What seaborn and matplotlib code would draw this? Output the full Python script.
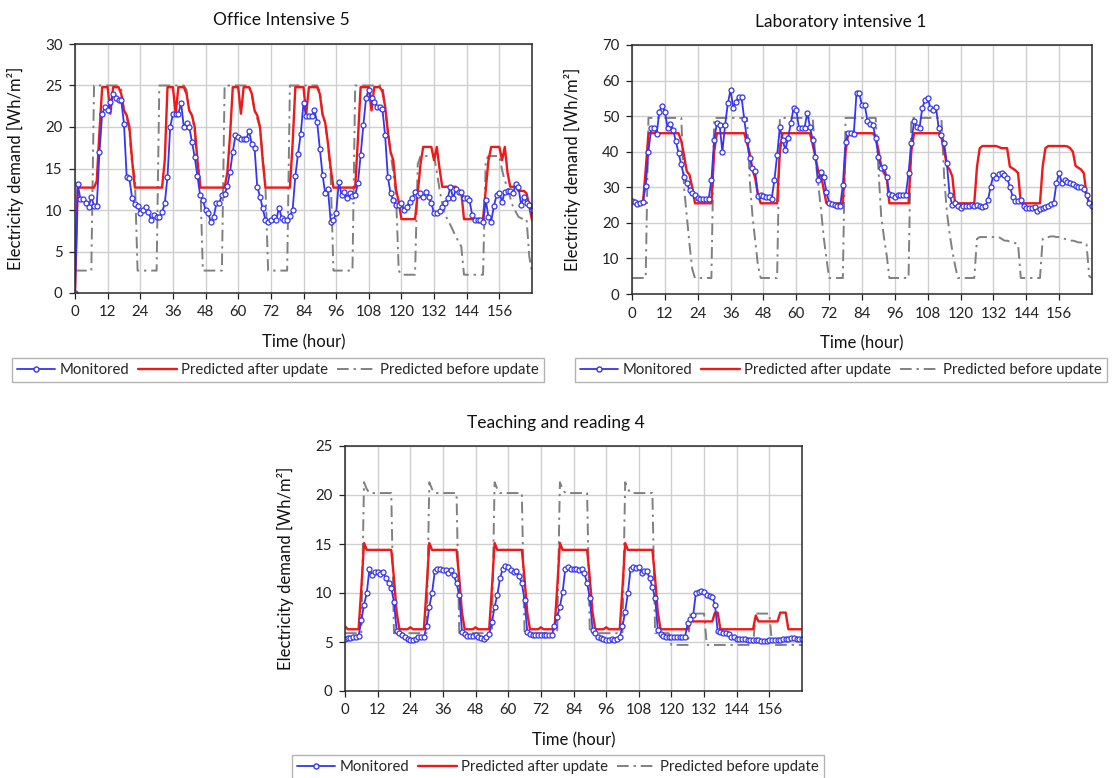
import numpy as np
import pandas as pd
import matplotlib
matplotlib.use("Agg")
import matplotlib.pyplot as plt
import seaborn as sns
from matplotlib.lines import Line2D

# ---------------- data (hourly, 0..168) ----------------
hours = list(range(169))

office_monitored = [
    0.0, 13.1, 11.3, 11.3, 10.8, 10.4, 11.6, 10.5, 10.5, 17.0, 21.6, 22.4, 22.0, 23.0, 24.0, 23.5, 23.2, 23.2, 20.4, 14.0, 13.8, 11.4, 10.7, 10.5,
    9.6, 10.0, 10.4, 9.8, 8.8, 9.4, 9.2, 9.2, 9.7, 10.8, 14.0, 20.0, 21.6, 21.6, 21.6, 22.9, 20.0, 20.5, 20.0, 18.2, 16.4, 14.1, 11.8, 11.2,
    10.0, 9.6, 8.5, 9.2, 10.8, 10.8, 11.8, 11.9, 12.9, 14.6, 17.0, 19.0, 18.8, 18.6, 18.5, 18.6, 19.5, 17.9, 17.5, 12.8, 11.6, 10.2, 8.8, 8.6,
    8.8, 9.2, 8.8, 10.3, 9.0, 8.8, 8.8, 9.3, 10.0, 14.1, 16.8, 19.2, 22.9, 21.3, 21.3, 21.3, 22.0, 20.6, 17.4, 14.2, 12.0, 12.5, 8.6, 8.8,
    9.6, 13.4, 11.8, 12.2, 11.4, 12.1, 11.7, 11.8, 13.2, 16.6, 20.2, 23.5, 24.5, 23.5, 23.0, 22.4, 22.4, 22.2, 19.0, 14.0, 12.0, 11.2, 10.6, 10.6,
    10.8, 10.0, 10.4, 11.0, 11.4, 12.2, 11.8, 12.0, 11.6, 12.2, 11.6, 10.8, 9.6, 9.6, 9.9, 10.4, 10.8, 11.4, 12.8, 11.4, 12.5, 12.2, 12.2, 11.4,
    11.4, 11.2, 9.4, 8.8, 8.8, 8.8, 8.5, 11.2, 9.2, 8.6, 10.5, 11.8, 12.1, 11.0, 12.2, 12.3, 12.3, 12.0, 13.1, 12.8, 10.6, 11.6, 10.8, 10.6, 10.0]
office_after = [
    0.0, 12.7, 12.7, 12.7, 12.7, 12.7, 12.7, 12.7, 13.5, 19.5, 24.8, 24.8, 24.8, 21.6, 24.8, 24.8, 24.8, 24.0, 22.0, 21.4, 20.0, 16.0, 12.7, 12.7,
    12.7, 12.7, 12.7, 12.7, 12.7, 12.7, 12.7, 12.7, 12.7, 16.0, 24.8, 24.8, 24.8, 21.6, 24.8, 24.8, 24.8, 24.0, 22.0, 21.4, 20.0, 16.0, 12.7, 12.7,
    12.7, 12.7, 12.7, 12.7, 12.7, 12.7, 12.7, 12.7, 14.5, 19.0, 24.8, 24.8, 24.8, 21.6, 24.8, 24.8, 24.8, 24.0, 22.0, 21.4, 20.0, 16.0, 12.7, 12.7,
    12.7, 12.7, 12.7, 12.7, 12.7, 12.7, 12.7, 12.7, 18.0, 24.8, 24.8, 24.8, 24.8, 21.6, 24.8, 24.8, 24.8, 24.8, 24.0, 21.5, 20.5, 18.0, 15.0, 12.7,
    12.7, 12.7, 12.7, 12.7, 12.7, 12.7, 12.7, 12.7, 18.5, 24.8, 24.8, 24.8, 24.8, 22.0, 24.8, 24.8, 24.8, 24.3, 22.5, 19.5, 17.0, 16.0, 12.5, 11.0,
    8.9, 8.9, 8.9, 8.9, 8.9, 8.9, 12.0, 15.5, 17.6, 17.6, 17.6, 17.6, 16.0, 17.6, 15.0, 12.8, 12.8, 12.8, 12.8, 12.8, 12.8, 12.2, 12.2, 8.9,
    8.9, 8.9, 8.9, 8.9, 8.9, 8.9, 8.9, 12.5, 16.0, 17.6, 17.6, 17.6, 17.6, 16.0, 17.6, 14.5, 12.8, 12.8, 12.8, 12.3, 12.3, 12.3, 12.0, 10.5, 8.8]
office_before = [
    2.7, 2.7, 2.7, 2.7, 2.7, 2.7, 2.7, 25.0, 25.0, 25.0, 25.0, 25.0, 25.0, 25.0, 25.0, 25.0, 25.0, 24.5, 22.0, 21.4, 19.5, 15.5, 14.0, 2.7,
    2.7, 2.7, 2.7, 2.7, 2.7, 2.7, 2.7, 25.0, 25.0, 25.0, 25.0, 25.0, 25.0, 25.0, 25.0, 25.0, 25.0, 24.5, 22.0, 21.4, 19.5, 15.5, 14.0, 2.7,
    2.7, 2.7, 2.7, 2.7, 2.7, 2.7, 2.7, 25.0, 25.0, 25.0, 25.0, 25.0, 25.0, 25.0, 25.0, 25.0, 25.0, 24.0, 22.0, 21.0, 20.0, 16.5, 13.0, 2.7,
    2.7, 2.7, 2.7, 2.7, 2.7, 2.7, 2.7, 25.0, 25.0, 25.0, 25.0, 25.0, 25.0, 25.0, 25.0, 25.0, 25.0, 25.0, 24.3, 21.5, 20.5, 18.0, 14.0, 2.7,
    2.7, 2.7, 2.7, 2.7, 2.7, 2.7, 2.7, 25.0, 25.0, 25.0, 25.0, 25.0, 25.0, 25.0, 25.0, 25.0, 25.0, 25.0, 22.5, 19.5, 17.0, 14.5, 12.0, 2.7,
    2.2, 2.2, 2.2, 2.2, 2.2, 2.2, 15.5, 16.5, 16.5, 16.5, 16.5, 16.5, 16.5, 14.6, 12.5, 10.8, 9.5, 8.8, 8.2, 7.5, 6.8, 6.2, 5.6, 2.2,
    2.2, 2.2, 2.2, 2.2, 2.2, 2.2, 2.2, 16.0, 16.5, 16.5, 16.5, 16.5, 16.5, 14.8, 13.5, 12.8, 11.5, 10.4, 9.8, 9.2, 9.0, 8.9, 8.9, 4.4, 2.5]

lab_monitored = [
    26.2, 25.8, 25.3, 25.7, 25.9, 30.5, 40.0, 46.6, 46.8, 45.0, 51.3, 52.9, 51.3, 46.6, 47.8, 46.1, 43.0, 39.7, 36.5, 33.0, 31.1, 29.2, 28.5, 27.8,
    27.0, 26.6, 26.6, 26.7, 26.7, 32.0, 43.3, 48.0, 47.5, 40.0, 47.5, 53.6, 57.4, 52.2, 54.1, 55.5, 55.3, 49.1, 43.3, 38.1, 35.3, 34.5, 27.6, 27.8,
    27.6, 27.4, 27.4, 26.7, 32.0, 39.0, 46.9, 43.3, 40.5, 43.8, 48.0, 52.2, 51.7, 46.6, 46.6, 46.6, 51.0, 47.0, 43.3, 38.6, 32.0, 34.4, 33.0, 28.8,
    25.7, 25.3, 25.0, 24.8, 24.6, 30.6, 42.8, 45.2, 45.2, 45.0, 56.6, 56.4, 53.0, 53.2, 48.5, 47.8, 47.5, 43.8, 38.6, 35.3, 35.8, 33.0, 28.0, 27.8,
    27.2, 27.8, 27.8, 27.8, 27.8, 34.0, 42.4, 48.5, 47.0, 46.6, 52.2, 54.5, 55.2, 52.2, 51.7, 52.7, 46.6, 44.7, 42.4, 36.7, 27.8, 25.0, 25.5, 24.7,
    24.1, 24.8, 24.7, 24.6, 24.9, 24.7, 24.9, 24.6, 24.4, 24.8, 26.4, 30.2, 33.5, 32.5, 33.7, 33.9, 33.5, 32.5, 30.2, 27.4, 26.1, 26.2, 26.4, 24.6,
    24.1, 24.3, 24.1, 24.4, 23.4, 23.8, 24.1, 24.4, 24.8, 25.3, 25.6, 31.1, 34.1, 31.1, 32.0, 31.5, 31.1, 30.8, 30.5, 30.2, 30.0, 29.4, 27.8, 25.5, 24.8]
lab_after = [
    25.7, 25.7, 25.7, 25.7, 25.7, 35.0, 45.2, 45.2, 45.2, 45.2, 45.2, 45.2, 45.2, 45.2, 45.2, 45.2, 45.2, 45.2, 43.0, 39.0, 34.5, 33.5, 30.0, 25.5,
    25.5, 25.5, 25.5, 25.5, 25.5, 25.5, 40.0, 45.2, 45.2, 45.2, 45.2, 45.2, 45.2, 45.2, 45.2, 45.2, 45.2, 45.2, 42.5, 39.5, 35.0, 32.5, 28.0, 25.5,
    25.5, 25.5, 25.5, 25.5, 25.5, 25.5, 40.0, 45.2, 45.2, 45.2, 45.2, 45.2, 45.2, 45.2, 45.2, 45.2, 45.2, 45.2, 42.0, 38.5, 34.5, 33.5, 29.5, 25.5,
    25.5, 25.5, 25.5, 25.5, 25.5, 25.5, 40.0, 45.2, 45.2, 45.2, 45.2, 45.2, 45.2, 45.2, 45.2, 45.2, 45.2, 44.0, 40.5, 36.0, 34.0, 33.0, 25.5, 25.5,
    25.5, 25.5, 25.5, 25.5, 25.5, 25.5, 40.0, 45.2, 45.2, 45.2, 45.2, 45.2, 45.2, 45.2, 45.2, 45.2, 45.2, 44.0, 40.5, 36.0, 35.0, 33.0, 25.5, 25.5,
    25.5, 25.5, 25.5, 25.5, 25.5, 25.5, 35.8, 41.0, 41.6, 41.6, 41.6, 41.6, 41.6, 41.6, 41.3, 41.0, 41.0, 41.0, 35.8, 35.3, 34.8, 34.0, 25.5, 25.5,
    25.5, 25.5, 25.5, 25.5, 25.5, 25.5, 36.0, 41.0, 41.6, 41.6, 41.6, 41.6, 41.6, 41.6, 41.6, 41.5, 41.0, 40.0, 36.0, 35.5, 35.0, 34.0, 28.0, 25.5, 25.5]
lab_before = [
    4.5, 4.5, 4.5, 4.5, 4.5, 4.5, 49.5, 49.5, 49.5, 49.5, 49.5, 49.5, 49.5, 49.5, 49.5, 49.5, 49.5, 49.5, 49.5, 30.0, 22.0, 14.0, 7.0, 4.5,
    4.5, 4.5, 4.5, 4.5, 4.5, 4.5, 49.5, 49.5, 49.5, 49.5, 49.5, 49.5, 49.5, 49.5, 49.5, 49.5, 49.5, 49.5, 49.5, 32.0, 22.0, 15.0, 8.0, 4.5,
    4.5, 4.5, 4.5, 4.5, 4.5, 4.5, 49.5, 49.5, 49.5, 49.5, 49.5, 49.5, 49.5, 49.5, 49.5, 49.5, 49.5, 49.5, 49.5, 38.0, 31.0, 24.0, 16.0, 10.0,
    4.5, 4.5, 4.5, 4.5, 4.5, 4.5, 49.5, 49.5, 49.5, 49.5, 49.5, 49.5, 49.5, 49.5, 49.5, 49.5, 49.5, 49.5, 35.0, 22.0, 16.0, 11.0, 4.5, 4.5,
    4.5, 4.5, 4.5, 4.5, 4.5, 4.5, 49.5, 49.5, 49.5, 49.5, 49.5, 49.5, 49.5, 49.5, 49.5, 49.5, 49.5, 49.5, 33.0, 23.0, 17.0, 12.0, 8.0, 4.5,
    4.5, 4.5, 4.5, 4.5, 4.5, 4.5, 15.5, 16.0, 16.0, 16.0, 16.0, 16.0, 16.0, 16.0, 16.0, 15.5, 15.0, 15.0, 14.7, 14.5, 14.3, 14.0, 4.5, 4.5,
    4.5, 4.5, 4.5, 4.5, 4.5, 4.5, 15.5, 16.0, 16.0, 16.2, 16.2, 16.0, 16.0, 15.8, 15.5, 15.3, 15.0, 15.0, 14.8, 14.5, 14.5, 14.0, 14.0, 5.0, 4.5]

teach_monitored = [
    5.3, 5.4, 5.45, 5.5, 5.55, 5.6, 7.2, 8.8, 10.0, 12.5, 11.8, 12.1, 12.1, 11.9, 12.1, 11.5, 11.0, 10.5, 9.1, 6.1, 5.9, 5.7, 5.5, 5.3,
    5.2, 5.2, 5.3, 5.5, 5.5, 5.5, 6.6, 8.6, 10.0, 12.2, 12.5, 12.4, 12.3, 12.3, 12.0, 12.3, 11.8, 11.0, 9.8, 6.05, 5.8, 5.6, 5.6, 5.6,
    5.7, 5.5, 5.4, 5.3, 5.5, 5.8, 7.0, 8.6, 9.8, 11.5, 12.5, 12.8, 12.7, 12.3, 12.1, 12.2, 11.7, 11.0, 9.3, 6.05, 5.8, 5.7, 5.7, 5.7,
    5.7, 5.7, 5.7, 5.7, 5.7, 6.6, 7.6, 8.6, 10.1, 12.5, 12.7, 12.5, 12.4, 12.4, 12.3, 12.4, 12.0, 11.0, 9.5, 6.2, 5.9, 5.5, 5.4, 5.3,
    5.2, 5.2, 5.3, 5.2, 5.3, 5.5, 6.6, 8.1, 10.0, 12.5, 12.7, 12.6, 12.7, 12.0, 12.2, 12.2, 11.5, 10.6, 9.5, 6.2, 5.8, 5.65, 5.55, 5.55,
    5.55, 5.55, 5.55, 5.55, 5.55, 5.55, 6.9, 7.3, 7.75, 10.0, 10.1, 10.2, 10.1, 9.8, 9.7, 9.6, 8.8, 6.1, 6.0, 5.95, 5.9, 5.8, 5.55, 5.5,
    5.3, 5.3, 5.3, 5.3, 5.2, 5.2, 5.2, 5.2, 5.2, 5.15, 5.1, 5.15, 5.2, 5.2, 5.2, 5.25, 5.25, 5.3, 5.35, 5.35, 5.4, 5.4, 5.35, 5.3, 5.3]
teach_after = [
    6.6, 6.3, 6.3, 6.3, 6.3, 6.3, 10.5, 15.1, 14.4, 14.4, 14.4, 14.4, 14.4, 14.4, 14.4, 14.4, 14.4, 14.4, 11.5, 8.0, 6.3, 6.3, 6.3, 6.3,
    6.5, 6.3, 6.3, 6.3, 6.3, 6.3, 10.5, 15.1, 14.4, 14.4, 14.4, 14.4, 14.4, 14.4, 14.4, 14.4, 14.4, 14.4, 11.5, 8.0, 6.3, 6.3, 6.3, 6.3,
    6.5, 6.3, 6.3, 6.3, 6.3, 6.3, 10.5, 15.1, 14.4, 14.4, 14.4, 14.4, 14.4, 14.4, 14.4, 14.4, 14.4, 14.4, 11.5, 8.0, 6.3, 6.3, 6.3, 6.3,
    6.5, 6.3, 6.3, 6.3, 6.3, 6.3, 10.5, 15.1, 14.4, 14.4, 14.4, 14.4, 14.4, 14.4, 14.4, 14.4, 14.4, 14.4, 11.5, 8.0, 6.3, 6.3, 6.3, 6.3,
    6.5, 6.3, 6.3, 6.3, 6.3, 6.3, 10.5, 15.1, 14.4, 14.4, 14.4, 14.4, 14.4, 14.4, 14.4, 14.4, 14.4, 14.4, 11.5, 8.0, 6.3, 6.3, 6.3, 6.3,
    6.3, 6.3, 6.3, 6.3, 6.3, 6.3, 6.3, 7.1, 7.1, 7.1, 7.1, 7.1, 7.1, 7.1, 7.1, 7.1, 8.0, 8.0, 6.3, 6.3, 6.3, 6.3, 6.3, 6.3,
    6.3, 6.3, 6.3, 6.3, 6.3, 6.3, 6.3, 7.7, 7.1, 7.1, 7.1, 7.1, 7.1, 7.1, 7.1, 7.1, 8.0, 8.0, 8.0, 6.3, 6.3, 6.3, 6.3, 6.3, 6.3]
teach_before = [
    5.9, 5.9, 5.9, 5.9, 5.9, 5.9, 5.9, 21.3, 20.6, 20.2, 20.2, 20.2, 20.2, 20.2, 20.2, 20.2, 20.2, 20.2, 5.9, 5.9, 5.9, 5.9, 5.9, 5.9,
    5.9, 5.9, 5.9, 5.9, 5.9, 5.9, 5.9, 21.3, 20.6, 20.2, 20.2, 20.2, 20.2, 20.2, 20.2, 20.2, 20.2, 20.2, 5.9, 5.9, 5.9, 5.9, 5.9, 5.9,
    5.9, 5.9, 5.9, 5.9, 5.9, 5.9, 5.9, 21.3, 20.6, 20.2, 20.2, 20.2, 20.2, 20.2, 20.2, 20.2, 20.2, 20.2, 5.9, 5.9, 5.9, 5.9, 5.9, 5.9,
    5.9, 5.9, 5.9, 5.9, 5.9, 5.9, 5.9, 21.3, 20.6, 20.2, 20.2, 20.2, 20.2, 20.2, 20.2, 20.2, 20.2, 20.2, 5.9, 5.9, 5.9, 5.9, 5.9, 5.9,
    5.9, 5.9, 5.9, 5.9, 5.9, 5.9, 5.9, 21.3, 20.6, 20.2, 20.2, 20.2, 20.2, 20.2, 20.2, 20.2, 20.2, 20.2, 5.9, 5.9, 5.9, 5.9, 5.9, 5.9,
    4.7, 4.7, 4.7, 4.7, 4.7, 4.7, 4.7, 7.9, 7.9, 7.9, 7.9, 7.9, 7.9, 4.7, 4.7, 4.7, 4.7, 4.7, 4.7, 4.7, 4.7, 4.7, 4.7, 4.7,
    4.7, 4.7, 4.7, 4.7, 4.7, 4.7, 4.7, 7.9, 7.9, 7.9, 7.9, 7.9, 7.9, 4.7, 4.7, 4.7, 4.7, 4.7, 4.7, 4.7, 4.7, 4.7, 4.7, 4.7, 4.7]

x_ticks = [0, 12, 24, 36, 48, 60, 72, 84, 96, 108, 120, 132, 144, 156]
series_labels = ["Monitored", "Predicted after update", "Predicted before update"]
titles = ["Office Intensive 5", "Laboratory intensive 1", "Teaching and reading 4"]
x_label = "Time (hour)"
y_label = "Electricity demand [Wh/m²]"

# ---------------- style ----------------
sns.set_theme(style="white")
plt.rcParams["font.family"] = ["Lato", "DejaVu Sans"]
BLUE = "#3535f2"
RED = "#f01818"
GRAY = "#808080"
DASHDOT = (0, (6, 2.5, 1.2, 2.5))

W, H = 1116, 778
fig = plt.figure(figsize=(W / 100, H / 100), dpi=100)


def px_axes(l, t, r, b):
    return fig.add_axes([l / W, 1 - b / H, (r - l) / W, (b - t) / H])


def draw(ax, mon, after, before, ymax, ystep, title_xy):
    df = pd.DataFrame({"hour": hours, "mon": mon, "after": after, "before": before})
    sns.lineplot(data=df, x="hour", y="before", ax=ax, color=GRAY, lw=1.4,
                 sort=False, estimator=None)
    ax.lines[-1].set_linestyle(DASHDOT)
    sns.lineplot(data=df, x="hour", y="after", ax=ax, color=RED, lw=1.7,
                 sort=False, estimator=None)
    sns.lineplot(data=df, x="hour", y="mon", ax=ax, color=BLUE, lw=1.3,
                 sort=False, estimator=None, marker="o", markersize=3.6,
                 markerfacecolor="white", markeredgecolor=BLUE, markeredgewidth=0.9)
    ax.set_xlim(0, 168)
    ax.set_ylim(0, ymax)
    ax.set_xticks(x_ticks)
    ax.set_yticks(np.arange(0, ymax + 0.1, ystep))
    ax.grid(True, color="#cfcfcf", lw=1.0)
    ax.set_axisbelow(True)
    for s in ax.spines.values():
        s.set_color("#2a2a2a")
        s.set_linewidth(1.1)
    ax.tick_params(direction="out", length=4, width=0.9, pad=5, labelsize=10.8,
                   colors="#222222", left=True, bottom=True)
    ax.set_xlabel(x_label, fontsize=12, labelpad=11, color="#111111")
    ax.set_ylabel(y_label, fontsize=12, labelpad=15, color="#111111")
    fig.text(title_xy[0] / W, 1 - title_xy[1] / H, title_xy[2], fontsize=12.5,
             ha="center", va="center", color="#111111")


def legend_at(cx, cy):
    handles = [
        Line2D([0, 0.5, 1], [0, 0, 0], color=BLUE, lw=1.3, marker="o", markersize=3.6,
               markerfacecolor="white", markeredgecolor=BLUE, markevery=[1]),
        Line2D([0], [0], color=RED, lw=1.7),
        Line2D([0], [0], color=GRAY, lw=1.4, linestyle=DASHDOT),
    ]
    fig.legend(handles, series_labels, loc="center",
               bbox_to_anchor=(cx / W, 1 - cy / H), ncol=3, fontsize=10.7,
               frameon=True, fancybox=False, edgecolor="#a0a0a0",
               handlelength=2.6, handletextpad=0.3, columnspacing=0.6,
               borderpad=0.35)


ax1 = px_axes(75, 44, 532, 293)
ax2 = px_axes(632, 45, 1092, 294)
ax3 = px_axes(345, 446, 802, 691)

draw(ax1, office_monitored, office_after, office_before, 30, 5, (281, 20, titles[0]))
draw(ax2, lab_monitored, lab_after, lab_before, 70, 10, (841, 22, titles[1]))
draw(ax3, teach_monitored, teach_after, teach_before, 25, 5, (556, 423, titles[2]))

legend_at(278, 370)
legend_at(841, 370)
legend_at(558, 767)

fig.savefig("out.png", dpi=100)
